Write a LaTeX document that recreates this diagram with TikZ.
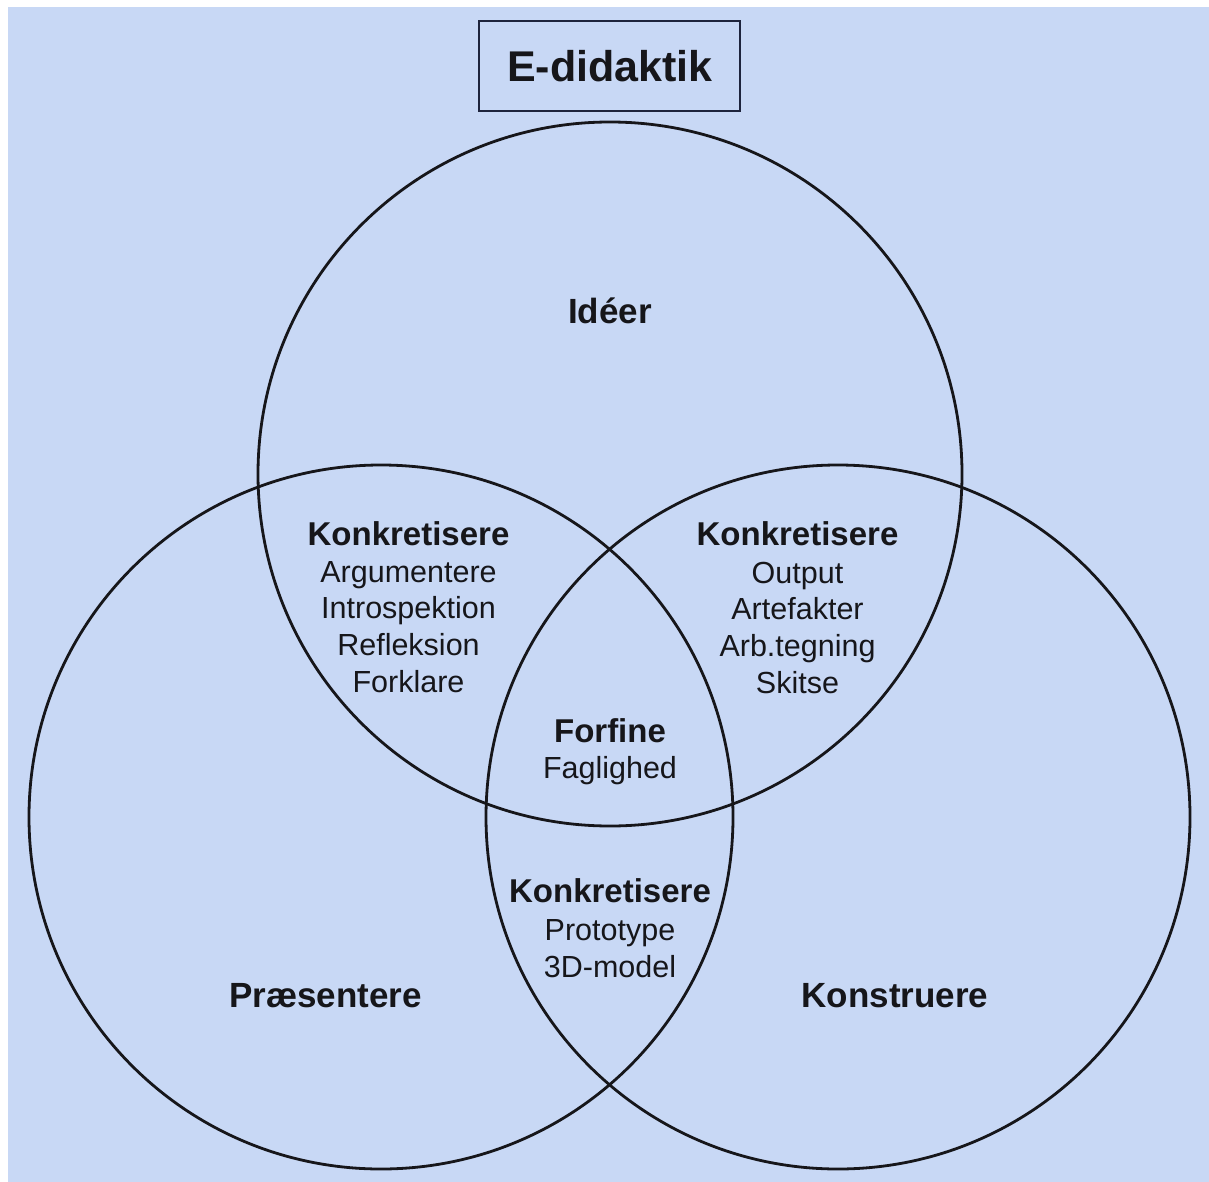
\documentclass[tikz,border=0pt]{standalone}
\usepackage{fontspec}
\setmainfont{Liberation Sans}
\definecolor{bgblue}{RGB}{200,216,245}
\definecolor{ink}{RGB}{22,22,26}
\definecolor{boxline}{RGB}{30,36,60}
\begin{document}
\begin{tikzpicture}[x=1pt,y=-1pt,
  venn/.style={circle,draw=ink,line width=2.8pt,minimum size=704pt,inner sep=0pt},
  bigbold/.style={anchor=base,inner sep=0pt,text=ink,font=\fontsize{35}{40}\selectfont\bfseries},
  midbold/.style={anchor=base,inner sep=0pt,text=ink,font=\fontsize{33}{38}\selectfont\bfseries},
  plain/.style={anchor=base,inner sep=0pt,text=ink,font=\fontsize{30.5}{36}\selectfont},
  titlebox/.style={draw=boxline,line width=1.8pt,minimum width=261pt,minimum height=90pt,inner sep=0pt}
]
\useasboundingbox (0,0) rectangle (1209,1182);
\fill[white] (0,0) rectangle (1209,1182);
\fill[bgblue] (8,7) rectangle (1209,1182);

% circles
\node[venn] (top) at (610,474) {};
\node[venn] (left) at (381,817) {};
\node[venn] (right) at (838,817) {};

% title
\node[titlebox] (title) at (609.5,66) {};
\node[anchor=base,inner sep=0pt,text=ink,font=\fontsize{43}{48}\selectfont\bfseries] (titletext) at (610,82) {E-didaktik};

% main labels
\node[bigbold] (ideer) at (610,323) {Idéer};
\node[bigbold] (praes) at (325.5,1007) {Præsentere};
\node[bigbold] (konst) at (895,1007) {Konstruere};

% top-left intersection
\node[midbold] (tlh) at (408.5,545) {Konkretisere};
\node[plain] (tl1) at (408.5,582) {Argumentere};
\node[plain] (tl2) at (408.5,618) {Introspektion};
\node[plain] (tl3) at (408.5,655) {Refleksion};
\node[plain] (tl4) at (408.5,692) {Forklare};

% top-right intersection
\node[midbold] (trh) at (797.5,545) {Konkretisere};
\node[plain] (tr1) at (797.5,583) {Output};
\node[plain] (tr2) at (797.5,619) {Artefakter};
\node[plain] (tr3) at (797.5,656) {Arb.tegning};
\node[plain] (tr4) at (797.5,693) {Skitse};

% centre
\node[midbold] (ch) at (610,742) {Forfine};
\node[plain] (c1) at (610,778) {Faglighed};

% bottom intersection
\node[midbold] (bh) at (610,902) {Konkretisere};
\node[plain] (b1) at (610,940) {Prototype};
\node[plain] (b2) at (610,977) {3D-model};
\end{tikzpicture}
\end{document}
